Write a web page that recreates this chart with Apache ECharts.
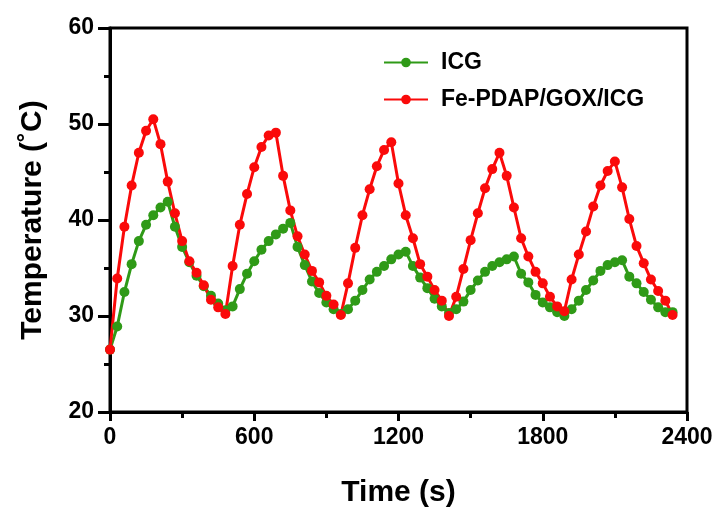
<!DOCTYPE html>
<html>
<head>
<meta charset="utf-8">
<script src="https://cdn.jsdelivr.net/npm/echarts@6/dist/echarts.min.js"></script>
<style>html,body{margin:0;padding:0;background:#fff}#c{width:720px;height:514px}</style>
</head>
<body>
<div id="c"></div>
<script>
var timeSec = [0,30,60,90,120,150,180,210,240,270,300,330,360,390,420,450,480,510,540,570,600,630,660,690,720,750,780,810,840,870,900,930,960,990,1020,1050,1080,1110,1140,1170,1200,1230,1260,1290,1320,1350,1380,1410,1440,1470,1500,1530,1560,1590,1620,1650,1680,1710,1740,1770,1800,1830,1860,1890,1920,1950,1980,2010,2040,2070,2100,2130,2160,2190,2220,2250,2280,2310,2340];
var icg = [26.5,28.9,32.5,35.4,37.8,39.5,40.5,41.3,41.9,39.3,37.2,35.6,34.2,33.1,32.1,31.3,30.6,31.0,32.8,34.4,35.7,36.9,37.8,38.5,39.1,39.7,37.2,35.3,33.6,32.4,31.4,30.7,30.2,30.7,31.6,32.7,33.8,34.6,35.2,35.9,36.4,36.7,35.2,34.0,32.9,31.8,31.0,30.3,30.7,31.5,32.7,33.7,34.6,35.2,35.6,35.9,36.2,34.4,33.5,32.2,31.4,30.9,30.4,30.0,30.7,31.6,32.7,33.7,34.7,35.3,35.6,35.8,34.1,33.4,32.5,31.7,30.9,30.4,30.4];
var fePdap = [26.5,33.9,39.3,43.6,47.0,49.3,50.5,47.9,44.0,40.7,37.8,35.7,34.5,33.2,31.7,30.9,30.2,35.2,39.5,42.7,45.5,47.6,48.8,49.1,44.6,41.0,38.3,36.4,34.7,33.5,32.1,31.2,30.1,33.4,37.1,40.5,43.2,45.6,47.3,48.1,43.8,40.5,38.1,35.4,34.1,32.7,31.6,30.0,32.0,34.9,37.9,40.7,43.3,45.3,47.0,44.6,41.3,38.1,36.2,34.6,33.4,32.0,31.0,30.5,33.8,36.4,38.8,41.4,43.6,45.1,46.1,43.4,40.1,37.3,35.5,33.8,32.6,31.6,30.1];
var seriesNames = ['ICG','Fe-PDAP/GOX/ICG'];
var xTicks = [0,600,1200,1800,2400];
var yTicks = [20,30,40,50,60];

function pairs(vals){ return vals.map(function(v,i){ return [timeSec[i], v]; }); }
var FONT = '"Liberation Sans",Arial,sans-serif';
var chart = echarts.init(document.getElementById('c'), null, {renderer:'canvas'});
chart.setOption({
  animation:false,
  backgroundColor:'#fff',
  grid:{left:110,right:33,top:28,bottom:102,show:true,borderColor:'#000',borderWidth:3,backgroundColor:'transparent'},
  legend:{
    orient:'vertical', left:378, top:46, itemWidth:44, itemHeight:12, itemGap:14,
    textStyle:{fontFamily:FONT,fontWeight:'bold',fontSize:23,color:'#000',padding:[0,0,0,8]},
    data:seriesNames
  },
  xAxis:{
    type:'value', min:xTicks[0], max:xTicks[xTicks.length-1], interval:600,
    name:'Time (s)', nameLocation:'middle', nameGap:66,
    nameTextStyle:{fontFamily:FONT,fontWeight:'bold',fontSize:30,color:'#000'},
    axisLine:{show:true,lineStyle:{color:'#000',width:3}},
    axisTick:{show:true,inside:false,length:9,lineStyle:{color:'#000',width:3}},
    minorTick:{show:true,splitNumber:2,length:6,lineStyle:{color:'#000',width:3}},
    splitLine:{show:false},
    axisLabel:{fontFamily:FONT,fontWeight:'bold',fontSize:23,color:'#000',margin:14,
      formatter:function(v){ return String(v); }}
  },
  yAxis:{
    type:'value', min:yTicks[0], max:yTicks[yTicks.length-1], interval:10,
    name:'Temperature (˚C)', nameLocation:'middle', nameGap:62,
    nameTextStyle:{fontFamily:FONT,fontWeight:'bold',fontSize:30,color:'#000'},
    axisLine:{show:true,lineStyle:{color:'#000',width:3}},
    axisTick:{show:true,inside:false,length:12,lineStyle:{color:'#000',width:3}},
    minorTick:{show:true,splitNumber:2,length:6,lineStyle:{color:'#000',width:3}},
    splitLine:{show:false},
    axisLabel:{fontFamily:FONT,fontWeight:'bold',fontSize:23,color:'#000',margin:16,
      formatter:function(v){ return String(v); }}
  },
  series:[
    {name:seriesNames[0],type:'line',data:pairs(icg),symbol:'circle',symbolSize:10,showAllSymbol:true,
     itemStyle:{color:'#2f9a17'},lineStyle:{color:'#2f9a17',width:3}},
    {name:seriesNames[1],type:'line',data:pairs(fePdap),symbol:'circle',symbolSize:10,showAllSymbol:true,
     itemStyle:{color:'#fa0a0a'},lineStyle:{color:'#fa0a0a',width:3}}
  ]
});
</script>
</body>
</html>
